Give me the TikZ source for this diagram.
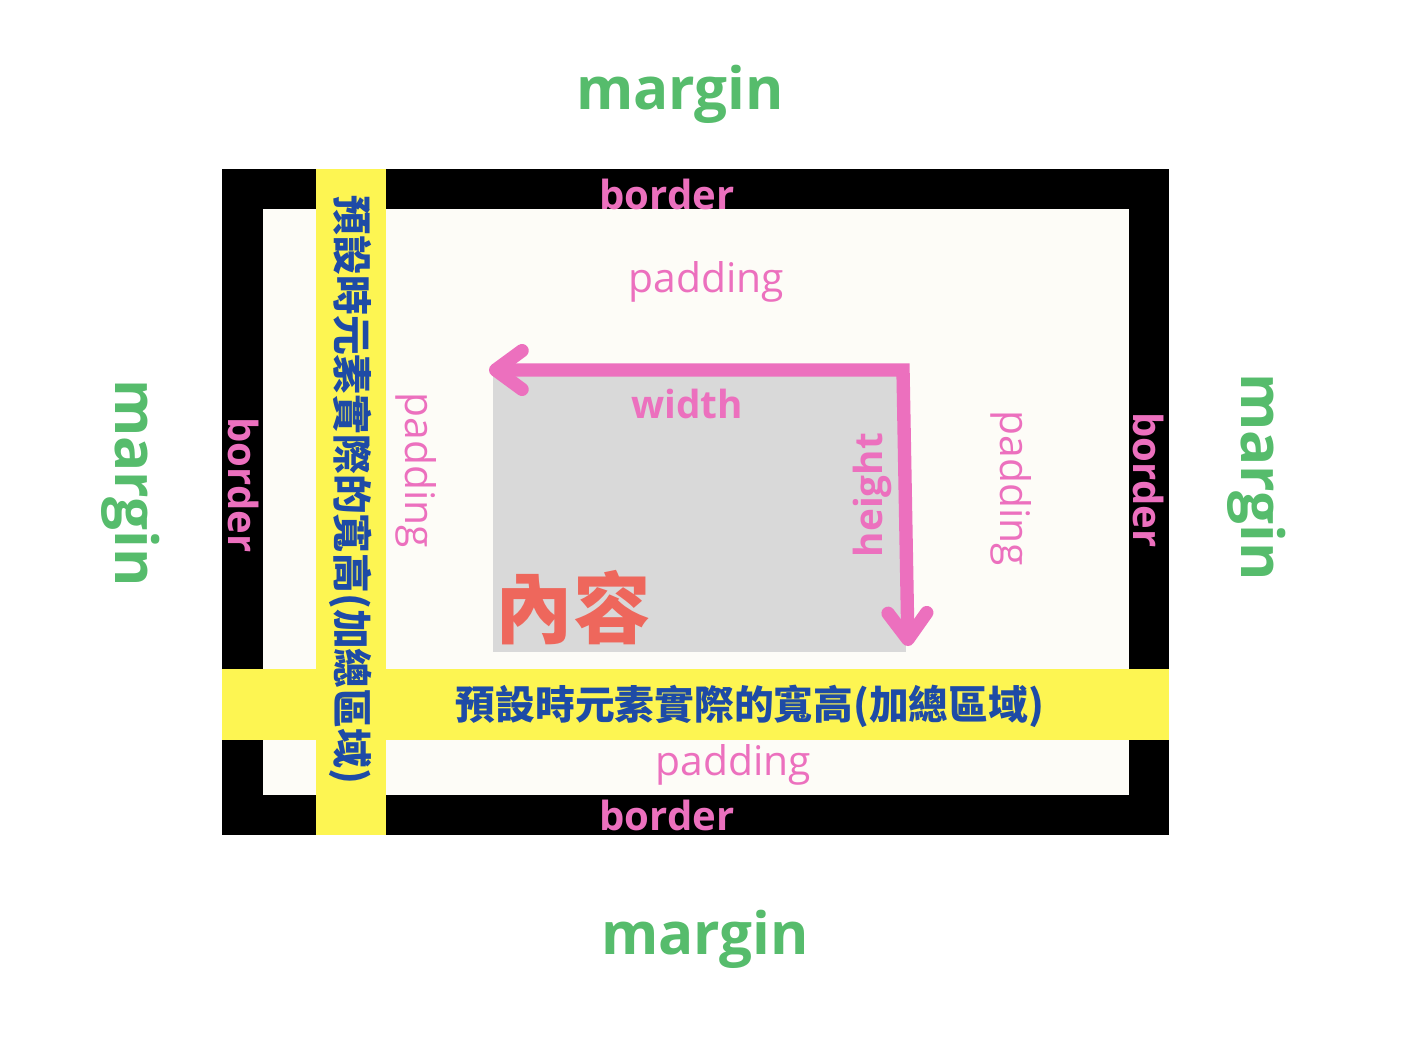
\documentclass[tikz,border=0pt]{standalone}
\usepackage{fontspec}
\setmainfont{Open Sans}
\newfontfamily\cjkfont{Noto Sans CJK TC}
\usetikzlibrary{arrows.meta}

\definecolor{boxpink}{HTML}{EC70BE}
\definecolor{boxgreen}{HTML}{56BC6C}
\definecolor{boxblue}{HTML}{1E4BA6}
\definecolor{boxyellow}{HTML}{FDF552}
\definecolor{boxivory}{HTML}{FDFCF7}
\definecolor{boxgray}{HTML}{D9D9D9}
\definecolor{boxcoral}{HTML}{EE675C}

\begin{document}
\begin{tikzpicture}[
  x=0.01cm, y=-0.01cm,
  marginlbl/.style={text=boxgreen, font=\fontsize{16.6}{20}\selectfont\bfseries, inner sep=0pt},
  borderlbl/.style={text=boxpink, font=\fontsize{11.4}{14}\selectfont\bfseries, inner sep=0pt},
  paddinglbl/.style={text=boxpink, font=\fontsize{11.6}{14}\selectfont, inner sep=0pt},
  sizelbl/.style={text=boxpink, font=\fontsize{11}{13}\selectfont\bfseries, inner sep=0pt},
  totallbl/.style={text=boxblue, font=\cjkfont\fontsize{11.3}{13}\selectfont\bfseries, inner sep=0pt},
  band/.style={fill=boxyellow},
  dimarrow/.style={boxpink, line width=3.8pt, line join=miter,
    {Straight Barb[length=7.5pt, width=11pt, line cap=round, line join=round]}-{Straight Barb[length=7.5pt, width=11pt, line cap=round, line join=round]}}
]
\useasboundingbox[fill=white] (0,0) rectangle (1406,1036);

% box layers
\fill[black] (222,169) rectangle (1169,835);
\fill[boxivory] (263,209) rectangle (1129,795);
\fill[boxgray] (493,376) rectangle (906,652);
\fill[band] (316,169) rectangle (386,835);
\fill[band] (222,669) rectangle (1169,740);

% margin
\node[marginlbl] (mtop) at (680,94) {margin};
\node[marginlbl] (mbot) at (705,939) {margin};
\node[marginlbl, rotate=-90] (mleft) at (131,483) {margin};
\node[marginlbl, rotate=-90] (mright) at (1257,477) {margin};

% border
\node[borderlbl] (btop) at (667,194) {border};
\node[borderlbl] (bbot) at (667,815) {border};
\node[borderlbl, rotate=-90] (bleft) at (244,485) {border};
\node[borderlbl, rotate=-90] (bright) at (1149,480) {border};

% padding
\node[paddinglbl] (ptop) at (706,282) {padding};
\node[paddinglbl] (pbot) at (733,765) {padding};
\node[paddinglbl, rotate=-90] (pleft) at (416,470) {padding};
\node[paddinglbl, rotate=-90] (pright) at (1011,488) {padding};

% content
\node[text=boxcoral, font=\cjkfont\fontsize{22}{24}\selectfont\bfseries, inner sep=0pt] (content) at (573,608) {內容};
\node[sizelbl] (width) at (687,404) {width};
\node[sizelbl, rotate=90] (height) at (872,495) {height};

\coordinate (wtip) at (489,370);
\coordinate (corner) at (903,370);
\coordinate (htip) at (908,646);
\draw[dimarrow] (wtip) -- (corner) -- (htip);

% total size
\node[totallbl] (total) at (750,706) {預設時元素實際的寬高(加總區域)};
\node[totallbl, rotate=-90] (totalv) at (351,490) {預設時元素實際的寬高(加總區域)};
\end{tikzpicture}
\end{document}
